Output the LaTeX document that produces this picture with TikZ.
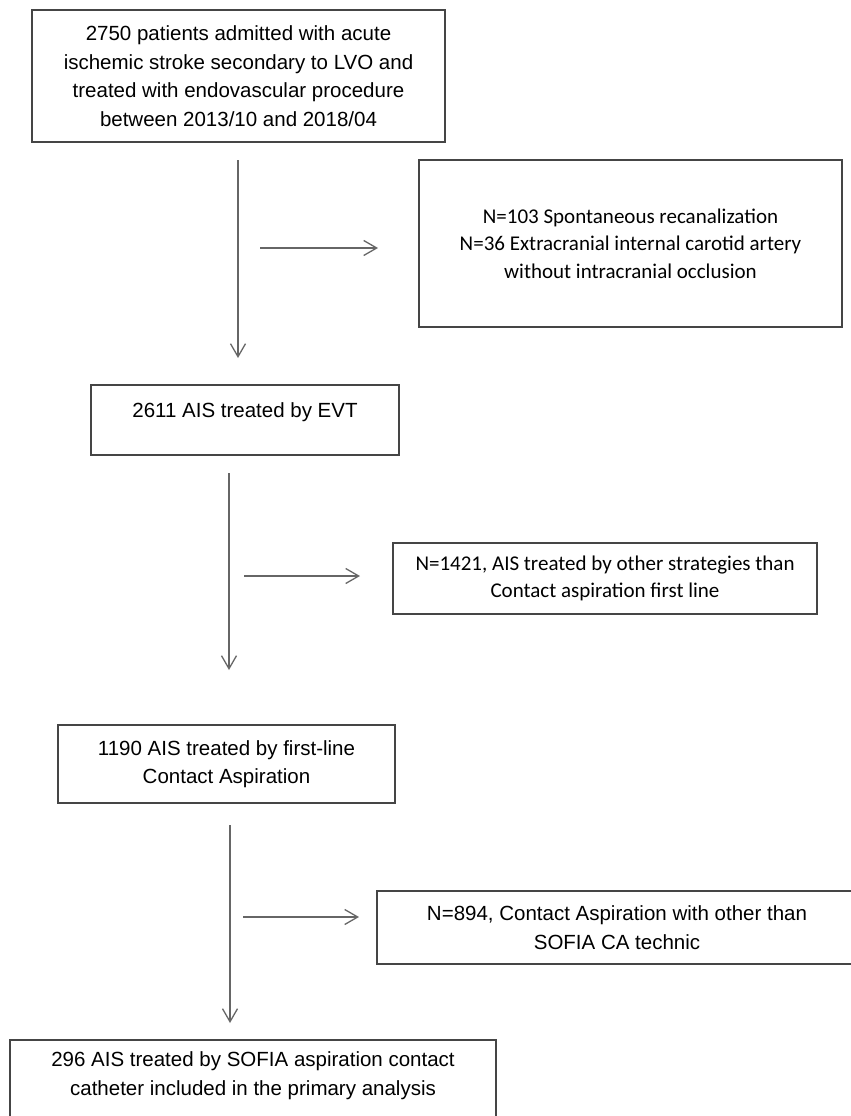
\documentclass[tikz,border=0pt]{standalone}
\usepackage{fontspec}
\setmainfont{Liberation Sans}
\newfontfamily\calibri{Carlito}
\usetikzlibrary{arrows.meta}
\definecolor{boxgray}{HTML}{454545}
\definecolor{arrowgray}{HTML}{666666}
\tikzset{
  box/.style={draw=boxgray, line width=1.3pt, inner sep=0pt, align=center,
    font=\fontsize{20.5}{28.5}\selectfont},
  exbox/.style={box, font=\calibri\fontsize{21}{27.5}\selectfont},
  flow/.style={draw=arrowgray, line width=1.3pt,
    -{Straight Barb[length=13pt,width=15pt,line width=1.3pt]}}
}
\begin{document}
\begin{tikzpicture}[x=1pt,y=-1pt]
      \useasboundingbox (0,0) rectangle (851,1116);
      \clip (0,0) rectangle (851,1116);
      % main line
      \node[box, minimum width=413, minimum height=132] (admit) at (238.5,76)
        {2750 patients admitted with acute\\ischemic stroke secondary to LVO and\\treated with endovascular procedure\\between 2013/10 and 2018/04};
      \node[box, minimum width=308, minimum height=70, text height=32.4pt, text depth=37.6pt] (evt) at (245,420)
        {2611 AIS treated by EVT};
      \node[box, minimum width=337, minimum height=78] (ca) at (226.5,764)
        {1190 AIS treated by first-line\\Contact Aspiration};
      \node[box, minimum width=486, minimum height=100, text height=55.4pt, text depth=44.6pt] (sofia) at (253,1090)
        {296 AIS treated by SOFIA aspiration contact\\catheter included in the primary analysis};
      % exclusions
      \node[exbox, minimum width=423, minimum height=167] (spont) at (630.5,243.5)
        {N=103 Spontaneous recanalization\\N=36 Extracranial internal carotid artery\\without intracranial occlusion};
      \node[exbox, minimum width=424, minimum height=71] (other) at (605,578.5)
        {N=1421, AIS treated by other strategies than\\Contact aspiration first line};
      \node[box, minimum width=480, minimum height=73] (notsofia) at (617,927.5)
        {N=894, Contact Aspiration with other than\\SOFIA CA technic};
      % arrow ends
      \coordinate (d1) at (238,160);
      \coordinate (d1e) at (238,358);
      \coordinate (r1) at (260,248);
      \coordinate (r1e) at (378,248);
      \coordinate (d2) at (229,473);
      \coordinate (d2e) at (229,670);
      \coordinate (r2) at (244,576);
      \coordinate (r2e) at (360,576);
      \coordinate (d3) at (230,825);
      \coordinate (d3e) at (230,1023);
      \coordinate (r3) at (243,917);
      \coordinate (r3e) at (359,917);
      \begin{scope}[flow]
        \draw (d1) to (d1e);
        \draw (r1) to (r1e);
        \draw (d2) to (d2e);
        \draw (r2) to (r2e);
        \draw (d3) to (d3e);
        \draw (r3) to (r3e);
      \end{scope}
    \end{tikzpicture}
\end{document}
